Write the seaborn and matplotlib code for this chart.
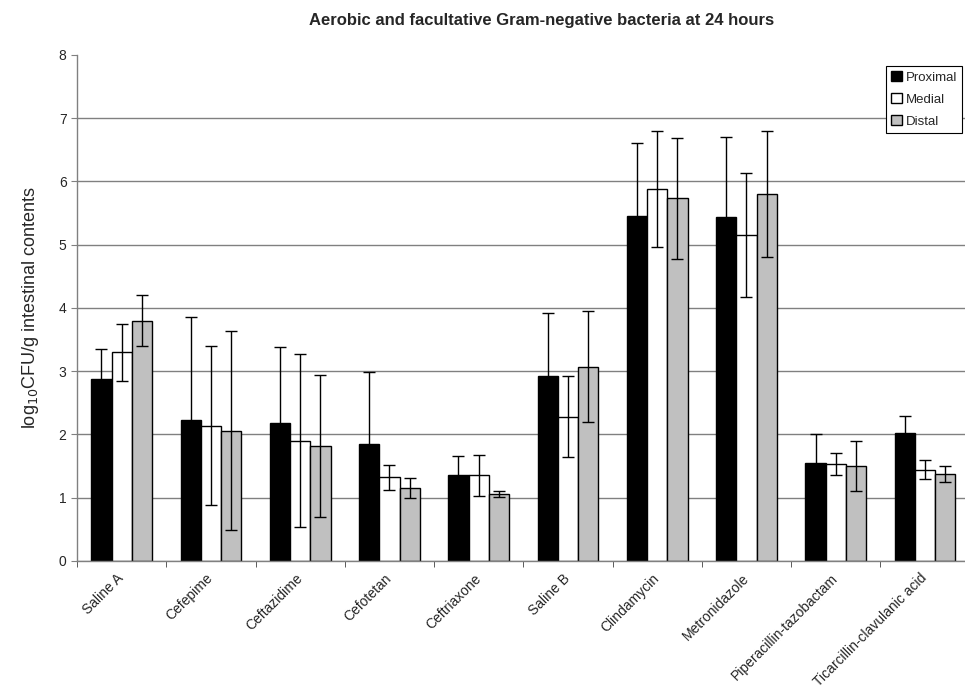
import numpy as np
import pandas as pd
import matplotlib
matplotlib.use("Agg")
import matplotlib.pyplot as plt
import seaborn as sns
from matplotlib.ticker import FixedLocator

categories = ["Saline A", "Cefepime", "Ceftazidime", "Cefotetan", "Ceftriaxone",
              "Saline B", "Clindamycin", "Metronidazole", "Piperacillin-tazobactam",
              "Ticarcillin-clavulanic acid"]
series = ["Proximal", "Medial", "Distal"]

proximal = [2.87, 2.23, 2.18, 1.85, 1.35, 2.93, 5.46, 5.43, 1.55, 2.02]
medial   = [3.30, 2.14, 1.90, 1.32, 1.35, 2.28, 5.88, 5.16, 1.53, 1.44]
distal   = [3.80, 2.06, 1.82, 1.15, 1.06, 3.07, 5.73, 5.80, 1.50, 1.37]

proximal_err = [0.48, 1.62, 1.20, 1.13, 0.31, 0.99, 1.15, 1.27, 0.46, 0.27]
medial_err   = [0.45, 1.26, 1.37, 0.20, 0.32, 0.64, 0.92, 0.98, 0.18, 0.15]
distal_err   = [0.41, 1.57, 1.12, 0.16, 0.05, 0.88, 0.95, 1.00, 0.40, 0.13]

colors = {"Proximal": "#000000", "Medial": "#ffffff", "Distal": "#c0c0c0"}

rows = []
for s, vals, errs in [("Proximal", proximal, proximal_err),
                      ("Medial", medial, medial_err),
                      ("Distal", distal, distal_err)]:
    for c, v, e in zip(categories, vals, errs):
        rows.append({"category": c, "series": s, "value": v, "err": e})
df = pd.DataFrame(rows)

sns.set_style("white")
plt.rcParams["font.family"] = ["Liberation Sans", "DejaVu Sans"]

fig = plt.figure(figsize=(9.65, 6.95), dpi=100)
ax = fig.add_axes([0.0798, 0.193, 0.925, 0.728])

sns.barplot(data=df, x="category", y="value", hue="series", order=categories,
            hue_order=series, palette=colors, width=0.68, errorbar=None,
            edgecolor="black", linewidth=1.0, ax=ax, legend=True, zorder=2)

# error bars at bar centres
for container, s in zip(ax.containers, series):
    sub = df[df["series"] == s].set_index("category").loc[categories]
    xs = [p.get_x() + p.get_width() / 2 for p in container.patches]
    hs = [p.get_height() for p in container.patches]
    ax.errorbar(xs, hs, yerr=sub["err"].values, fmt="none", ecolor="black",
                elinewidth=1.0, capsize=4, capthick=1.0, zorder=3)

ax.set_ylim(0, 8)
ax.set_xlim(-0.5, len(categories) - 0.5)
ax.set_yticks(range(0, 9))
ax.yaxis.grid(True, color="#808080", linewidth=1.0, zorder=0)
for gl in ax.get_ygridlines()[-1:]:
    gl.set_visible(False)
ax.set_axisbelow(True)

for side in ["top", "right"]:
    ax.spines[side].set_visible(False)
for side in ["left", "bottom"]:
    ax.spines[side].set_color("#808080")
    ax.spines[side].set_linewidth(1.0)

ax.set_xticks(range(len(categories)))
ax.set_xticklabels(categories, rotation=45, ha="right", va="center",
                   rotation_mode="anchor", fontsize=10)
ax.tick_params(axis="x", which="major", length=0, pad=11)
ax.xaxis.set_minor_locator(FixedLocator(np.arange(-0.5, len(categories), 1.0)))
ax.tick_params(axis="x", which="minor", length=4, color="#404040", direction="out",
               bottom=True)
ax.tick_params(axis="y", length=4, color="#808080", direction="out", left=True,
               labelsize=10)

ax.set_xlabel("")
ax.set_ylabel("log$_{10}$CFU/g intestinal contents", fontsize=13, labelpad=13)

fig.text(0.561, 0.971, "Aerobic and facultative Gram-negative bacteria at 24 hours",
         ha="center", va="center", fontsize=12, fontweight="bold")

handles, labels = ax.get_legend_handles_labels()
ax.legend(handles, labels, loc="upper left", bbox_to_anchor=(0.918, 0.905),
          bbox_transform=fig.transFigure, frameon=True, fancybox=False,
          edgecolor="black", framealpha=1.0, fontsize=9.5, handlelength=0.8,
          handleheight=0.8, handletextpad=0.3, borderpad=0.4, labelspacing=0.7,
          borderaxespad=0)
ax.get_legend().get_frame().set_linewidth(0.8)

fig.savefig("out.png", dpi=100)
